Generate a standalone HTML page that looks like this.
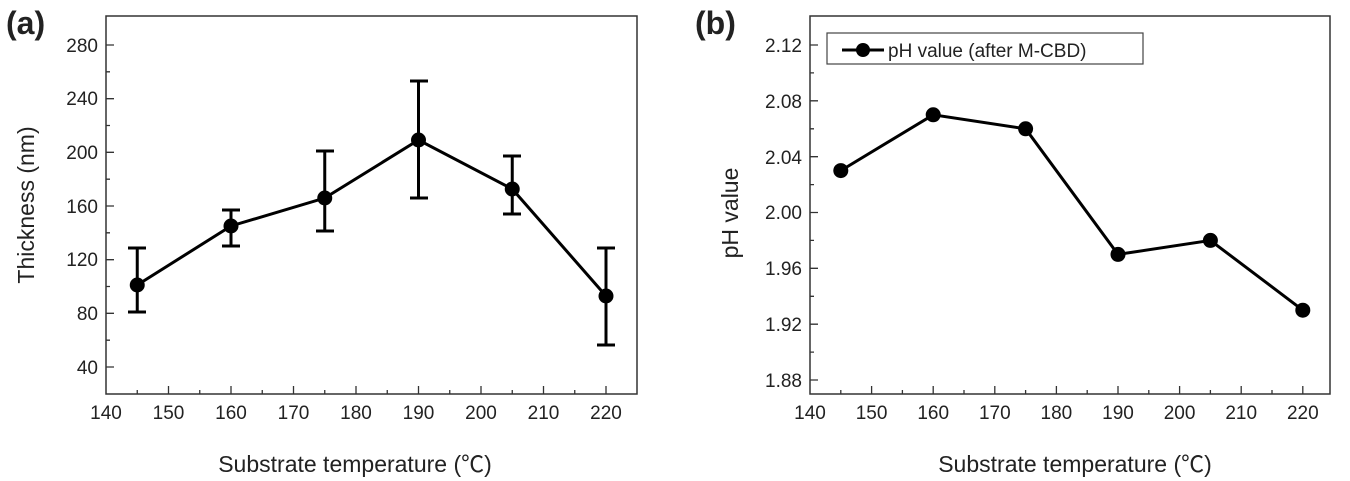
<!DOCTYPE html>
<html><head><meta charset="utf-8"><style>body{margin:0;background:#fff}svg{display:block}text{font-family:"Liberation Sans","Noto Sans CJK SC",sans-serif;fill:#222}</style></head><body>
<svg width="1350" height="481" viewBox="0 0 1350 481" xmlns="http://www.w3.org/2000/svg">
<g id="a">
<rect x="106" y="16" width="531" height="378" fill="none" stroke="#333" stroke-width="1.5"/>
<g stroke="#333" stroke-width="1.3">
<path d="M168.5 394v-8M231 394v-8M293.5 394v-8M356 394v-8M418.5 394v-8M481 394v-8M543.5 394v-8M606 394v-8
M137.25 394v-4M199.75 394v-4M262.25 394v-4M324.75 394v-4M387.25 394v-4M449.75 394v-4M512.25 394v-4M574.75 394v-4"/>
<path d="M106 367h8M106 313.3h8M106 259.7h8M106 206h8M106 152.3h8M106 98.7h8M106 45h8
M106 340.2h4M106 286.5h4M106 232.8h4M106 179.2h4M106 125.5h4M106 71.8h4"/>
</g>
<g font-size="19" text-anchor="middle">
<text x="106" y="419">140</text><text x="168.5" y="419">150</text><text x="231" y="419">160</text><text x="293.5" y="419">170</text><text x="356" y="419">180</text><text x="418.5" y="419">190</text><text x="481" y="419">200</text><text x="543.5" y="419">210</text><text x="606" y="419">220</text>
</g>
<g font-size="19" text-anchor="end">
<text x="98" y="374">40</text><text x="98" y="320">80</text><text x="98" y="266">120</text><text x="98" y="213">160</text><text x="98" y="159">200</text><text x="98" y="105">240</text><text x="98" y="52">280</text>
</g>
<text x="355" y="472" font-size="23" text-anchor="middle">Substrate temperature (℃)</text>
<text transform="translate(34,205) rotate(-90)" font-size="23" text-anchor="middle">Thickness (nm)</text>
<text x="6" y="34" font-size="32" font-weight="bold" fill="#000">(a)</text>
<g stroke="#000" stroke-width="3" fill="none">
<polyline points="137.25,285 231,226 324.75,198 418.5,140 512.25,189 606,296"/>
<path d="M137.25 248V312M128 248h18M128 312h18
M231 210V246M222 210h18M222 246h18
M324.75 151V231M316 151h18M316 231h18
M418.5 81V198M410 81h18M410 198h18
M512.25 156V214M503 156h18M503 214h18
M606 248V345M597 248h18M597 345h18"/>
</g>
<g fill="#000"><circle cx="137.25" cy="285" r="7.5"/><circle cx="231" cy="226" r="7.5"/><circle cx="324.75" cy="198" r="7.5"/><circle cx="418.5" cy="140" r="7.5"/><circle cx="512.25" cy="189" r="7.5"/><circle cx="606" cy="296" r="7.5"/></g>
</g>
<g id="b">
<rect x="810" y="16" width="520" height="378" fill="none" stroke="#333" stroke-width="1.5"/>
<g stroke="#333" stroke-width="1.3">
<path d="M871.6 394v-8M933.2 394v-8M994.8 394v-8M1056.4 394v-8M1118 394v-8M1179.6 394v-8M1241.2 394v-8M1302.8 394v-8
M840.8 394v-4M902.4 394v-4M964 394v-4M1025.6 394v-4M1087.2 394v-4M1148.8 394v-4M1210.4 394v-4M1272 394v-4"/>
<path d="M810 380h8M810 324.2h8M810 268.3h8M810 212.5h8M810 156.7h8M810 100.8h8M810 45h8
M810 352.1h4M810 296.3h4M810 240.4h4M810 184.6h4M810 128.8h4M810 72.9h4"/>
</g>
<g font-size="19" text-anchor="middle">
<text x="810" y="419">140</text><text x="871.6" y="419">150</text><text x="933.2" y="419">160</text><text x="994.8" y="419">170</text><text x="1056.4" y="419">180</text><text x="1118" y="419">190</text><text x="1179.6" y="419">200</text><text x="1241.2" y="419">210</text><text x="1302.8" y="419">220</text>
</g>
<g font-size="19" text-anchor="end">
<text x="802" y="387">1.88</text><text x="802" y="331">1.92</text><text x="802" y="275">1.96</text><text x="802" y="219">2.00</text><text x="802" y="164">2.04</text><text x="802" y="108">2.08</text><text x="802" y="52">2.12</text>
</g>
<text x="1075" y="472" font-size="23" text-anchor="middle">Substrate temperature (℃)</text>
<text transform="translate(738,213) rotate(-90)" font-size="23" text-anchor="middle">pH value</text>
<text x="695" y="34" font-size="32" font-weight="bold" fill="#000">(b)</text>
<rect x="827" y="33" width="316" height="31" fill="#fff" stroke="#444" stroke-width="1.2"/>
<path d="M842 50h42" stroke="#000" stroke-width="3"/><circle cx="863" cy="50" r="7" fill="#000"/>
<text x="888" y="57" font-size="19">pH value (after M-CBD)</text>
<polyline points="840.8,170.6 933.2,114.8 1025.6,128.8 1118,254.4 1210.4,240.4 1302.8,310.2" fill="none" stroke="#000" stroke-width="3"/>
<g fill="#000"><circle cx="840.8" cy="170.6" r="7.5"/><circle cx="933.2" cy="114.8" r="7.5"/><circle cx="1025.6" cy="128.8" r="7.5"/><circle cx="1118" cy="254.4" r="7.5"/><circle cx="1210.4" cy="240.4" r="7.5"/><circle cx="1302.8" cy="310.2" r="7.5"/></g>
</g>
</svg>
</body></html>
